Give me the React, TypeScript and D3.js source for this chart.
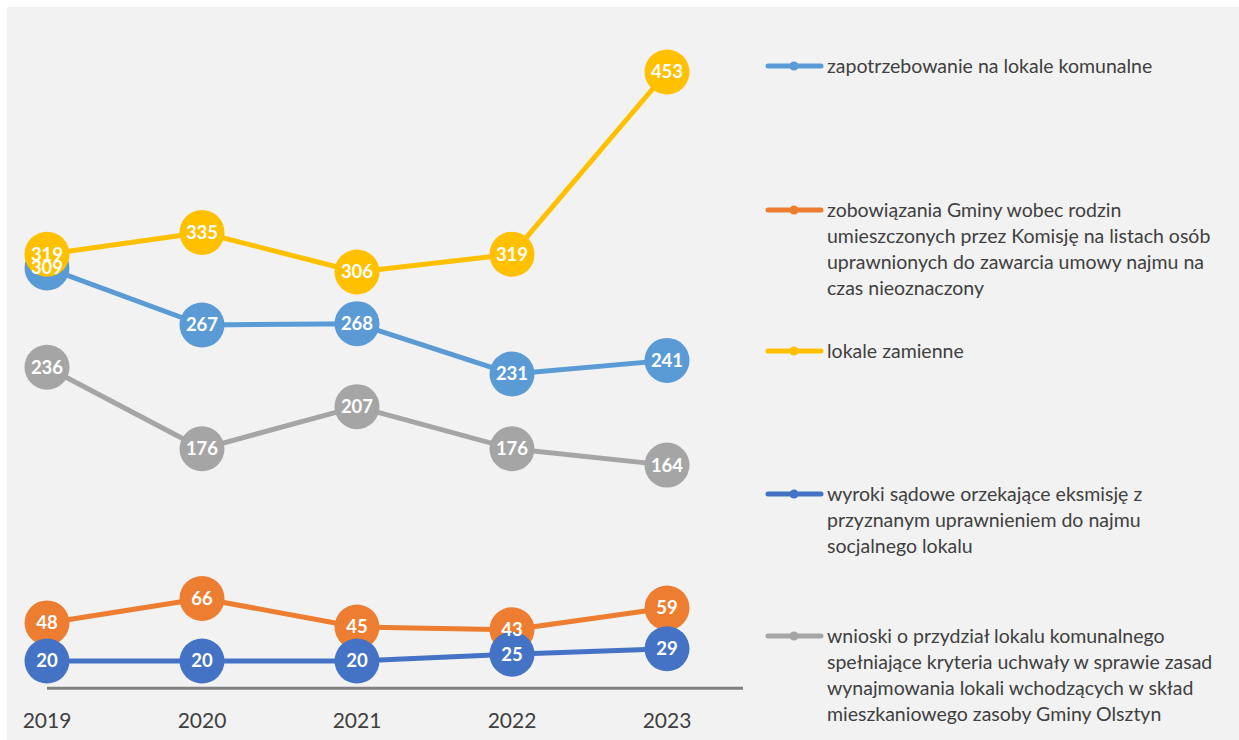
import React from "react";
import * as d3 from "d3";

const years = ["2019", "2020", "2021", "2022", "2023"];
const zapotrzebowanie = [309, 267, 268, 231, 241];
const zobowiazania = [48, 66, 45, 43, 59];
const lokaleZamienne = [319, 335, 306, 319, 453];
const wyroki = [20, 20, 20, 25, 29];
const wnioski = [236, 176, 207, 176, 164];

const seriesNames = [
  ["zapotrzebowanie na lokale komunalne"],
  [
    "zobowiązania Gminy wobec rodzin",
    "umieszczonych przez Komisję na listach osób",
    "uprawnionych do zawarcia umowy najmu na",
    "czas nieoznaczony",
  ],
  ["lokale zamienne"],
  [
    "wyroki sądowe orzekające eksmisję z",
    "przyznanym uprawnieniem do najmu",
    "socjalnego lokalu",
  ],
  [
    "wnioski o przydział lokalu komunalnego",
    "spełniające kryteria uchwały w sprawie zasad",
    "wynajmowania lokali wchodzących w skład",
    "mieszkaniowego zasoby Gminy Olsztyn",
  ],
];
const seriesValues = [zapotrzebowanie, zobowiazania, lokaleZamienne, wyroki, wnioski];
const colors = ["#5B9BD5", "#ED7D31", "#FFC000", "#4472C4", "#A5A5A5"];
const legendY = [66, 210, 351, 494, 636];

const W = 1239;
const H = 740;
const FONT = "Lato, 'Open Sans', sans-serif";

export default function App() {
  const x = d3.scalePoint<string>().domain(years).range([47, 667]);
  const y = d3.scaleLinear().domain([0, 453]).range([688.2, 72]);
  const line = d3
    .line<number>()
    .x((_, i) => x(years[i]) as number)
    .y((d) => y(d));
  const r = 22.5;

  return (
    <svg
      width={W}
      height={H}
      style={{ position: "absolute", left: 0, top: 0, display: "block" }}
    >
      <rect x={0} y={0} width={W} height={H} fill="#ffffff" />
      <rect x={7} y={7} width={W - 7} height={H - 7} fill="#f2f2f2" />

      {/* axis line */}
      <line
        x1={x("2019")}
        x2={743}
        y1={y(0)}
        y2={y(0)}
        stroke="#808080"
        strokeWidth={3}
      />
      {years.map((yr) => (
        <text
          key={yr}
          x={x(yr)}
          y={728}
          textAnchor="middle"
          fontFamily={FONT}
          fontSize={21}
          fill="#404040"
        >
          {yr}
        </text>
      ))}

      {/* series lines and markers */}
      {seriesValues.map((vals, si) => (
        <g key={si}>
          <path
            d={line(vals) || ""}
            fill="none"
            stroke={colors[si]}
            strokeWidth={5}
            strokeLinejoin="round"
            strokeLinecap="round"
          />
          {vals.map((v, i) => (
            <circle
              key={i}
              cx={x(years[i])}
              cy={y(v)}
              r={r}
              fill={colors[si]}
            />
          ))}
        </g>
      ))}

      {/* data labels */}
      {seriesValues.map((vals, si) => (
        <g key={"l" + si}>
          {vals.map((v, i) => (
            <text
              key={i}
              x={x(years[i])}
              y={y(v)}
              dy="0.35em"
              textAnchor="middle"
              fontFamily={FONT}
              fontWeight="bold"
              fontSize={18.5}
              fill="#ffffff"
            >
              {v}
            </text>
          ))}
        </g>
      ))}

      {/* legend */}
      {seriesNames.map((lines, si) => (
        <g key={"lg" + si}>
          <line
            x1={768}
            x2={821}
            y1={legendY[si]}
            y2={legendY[si]}
            stroke={colors[si]}
            strokeWidth={5}
            strokeLinecap="round"
          />
          <circle cx={794} cy={legendY[si]} r={4.5} fill={colors[si]} />
          {lines.map((t, li) => (
            <text
              key={li}
              x={827}
              y={legendY[si] + li * 26}
              dy="0.35em"
              fontFamily={FONT}
              fontSize={19.5}
              fill="#404040"
            >
              {t}
            </text>
          ))}
        </g>
      ))}
    </svg>
  );
}
